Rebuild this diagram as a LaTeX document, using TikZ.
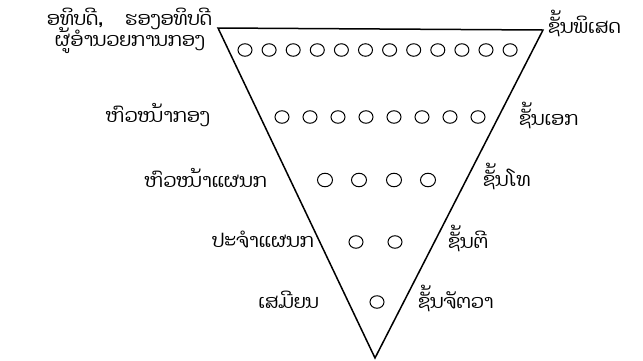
\documentclass[tikz,border=0pt]{standalone}
\usepackage{fontspec}
\usetikzlibrary{shapes.geometric}
\newfontfamily\laofont[Script=Lao]{Dhyana}
\begin{document}
\begin{tikzpicture}[x=1pt,y=-1pt,
  lbl/.style={font=\laofont\fontsize{19}{21}\selectfont, inner sep=1pt},
  lleft/.style={lbl, anchor=east},
  lright/.style={lbl, anchor=west},
  dot/.style={draw, line width=1pt, ellipse, minimum width=14pt, minimum height=12.5pt, inner sep=0pt},
  tri/.style={draw, line width=1.5pt, line join=miter}]
\useasboundingbox (0,0) rectangle (643,360);
% triangle
\coordinate (tl) at (218,28);
\coordinate (tr) at (543,30);
\coordinate (ap) at (375,358);
\draw[tri] (tl) -- (tr) -- (ap) -- cycle;
% circles
\foreach \i in {0,...,11} \node[dot] (r1c\i) at ({245+\i*24.1},50) {};
\foreach \i in {0,...,7} \node[dot] (r2c\i) at ({282+\i*28},117) {};
\foreach \i/\x in {0/325,1/359,2/394,3/428} \node[dot, minimum width=15pt, minimum height=13.5pt] (r3c\i) at (\x,180) {};
\foreach \i/\x in {0/356,1/395} \node[dot] (r4c\i) at (\x,242) {};
\node[dot] (r5c0) at (377,302) {};
% left labels
\node[lleft] (l1a) at (213,19) {ອທິບດີ,\hspace{22pt}ຮອງອທິບດີ};
\node[lleft] (l1b) at (206,40) {ຜູ້ອຳນວຍການກອງ};
\node[lleft] (l2) at (211,115) {ຫົວໜ້າກອງ};
\node[lleft] (l3) at (268,178) {ຫົວໜ້າແຜນກ};
\node[lleft] (l4) at (315,240) {ປະຈຳແຜນກ};
\node[lleft] (l5) at (320,300) {ເສມີຍນ};
% right labels
\node[lright] (rr1) at (547,23) {ຊັ້ນພິເສດ};
\node[lright] (rr2) at (518,115) {ຊັ້ນເອກ};
\node[lright] (rr3) at (482,176) {ຊັ້ນໂທ};
\node[lright] (rr4) at (447,238) {ຊັ້ນຕີ};
\node[lright] (rr5) at (417,298) {ຊັ້ນຈັຕວາ};
\end{tikzpicture}
\end{document}
